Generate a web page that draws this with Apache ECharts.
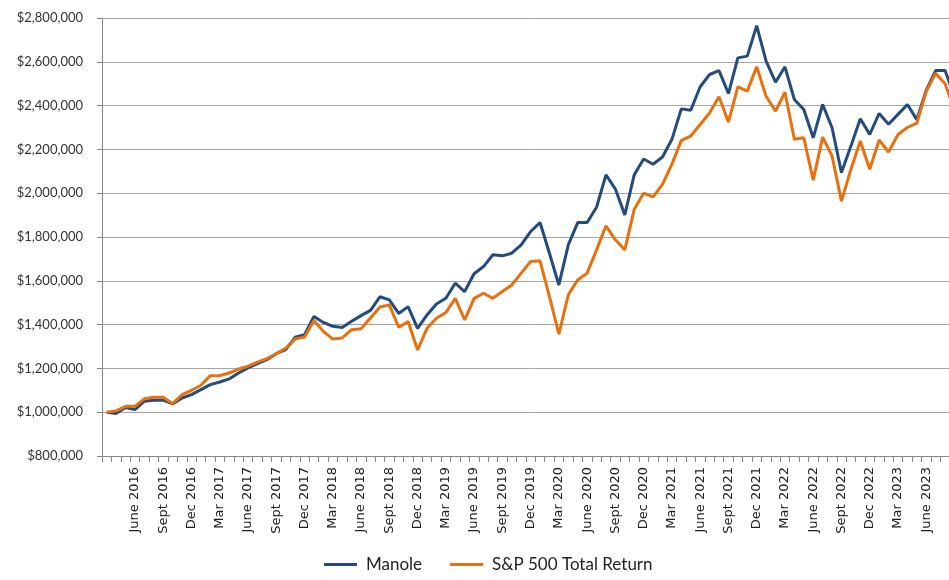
<!DOCTYPE html>
<html>
<head>
<meta charset="utf-8">
<script src="https://cdn.jsdelivr.net/npm/echarts@6/dist/echarts.min.js"></script>
<style>
html,body{margin:0;padding:0;background:#fff;overflow:hidden;}
#c{width:961px;height:580px;}
</style>
</head>
<body>
<div id="c"></div>
<script>
// Month labels (Mar 2016 .. Sept 2023)
const monthNames = ['Jan','Feb','Mar','Apr','May','June','July','Aug','Sept','Oct','Nov','Dec'];
const startYear = 2016, startMonth = 2, monthCount = 91;
const categories = [];
for (let i = 0; i < monthCount; i++) {
  const m = (startMonth + i) % 12;
  const y = startYear + Math.floor((startMonth + i) / 12);
  categories.push(monthNames[m] + ' ' + y);
}

const manole = [
  1000000, 994000, 1021000, 1012000, 1050000, 1055000, 1055000, 1038000, 1065000, 1080000,
  1103000, 1126000, 1138000, 1152000, 1179000, 1202000, 1222000, 1240000, 1267000, 1286000,
  1342000, 1354000, 1437000, 1410000, 1392000, 1387000, 1415000, 1441000, 1465000, 1527000,
  1513000, 1451000, 1482000, 1383000, 1444000, 1494000, 1520000, 1589000, 1551000, 1632000,
  1665000, 1719000, 1714000, 1726000, 1764000, 1825000, 1866000, 1726000, 1581000, 1764000,
  1866000, 1866000, 1936000, 2084000, 2019000, 1901000, 2084000, 2156000, 2132000, 2165000,
  2246000, 2385000, 2379000, 2486000, 2542000, 2560000, 2455000, 2618000, 2626000, 2765000,
  2603000, 2507000, 2577000, 2428000, 2382000, 2253000, 2405000, 2299000, 2094000, 2215000,
  2340000, 2268000, 2364000, 2315000, 2360000, 2405000, 2336000, 2470000, 2560000, 2560000,
  2440000
];

const sp500 = [
  1000000, 1006000, 1027000, 1027000, 1061000, 1068000, 1068000, 1039000, 1080000, 1100000,
  1123000, 1167000, 1167000, 1179000, 1197000, 1210000, 1229000, 1245000, 1267000, 1292000,
  1334000, 1343000, 1419000, 1369000, 1334000, 1339000, 1377000, 1381000, 1430000, 1480000,
  1490000, 1388000, 1414000, 1284000, 1383000, 1429000, 1455000, 1520000, 1421000, 1520000,
  1543000, 1520000, 1551000, 1581000, 1635000, 1688000, 1691000, 1528000, 1356000, 1536000,
  1604000, 1635000, 1741000, 1851000, 1787000, 1741000, 1927000, 2000000, 1983000, 2040000,
  2133000, 2241000, 2261000, 2314000, 2367000, 2440000, 2325000, 2486000, 2466000, 2577000,
  2443000, 2375000, 2461000, 2246000, 2253000, 2060000, 2256000, 2170000, 1964000, 2109000,
  2238000, 2109000, 2243000, 2188000, 2268000, 2300000, 2320000, 2465000, 2548000, 2500000,
  2380000
];

const seriesNames = ['Manole', 'S&P 500 Total Return'];
const yMin = 800000, yMax = 2800000, yStep = 200000;

const chart = echarts.init(document.getElementById('c'), null, {renderer: 'canvas'});
chart.setOption({
  animation: false,
  backgroundColor: '#ffffff',
  grid: {left: 102, top: 18, bottom: 124, right: 0, containLabel: false},
  legend: {
    data: seriesNames,
    bottom: 2,
    left: 319,
    icon: 'rect',
    itemWidth: 33,
    itemHeight: 3,
    itemGap: 28,
    textStyle: {fontFamily: 'Lato', fontSize: 17, color: '#222', padding: [0, 0, 0, 4]}
  },
  xAxis: {
    type: 'category',
    data: categories,
    boundaryGap: true,
    axisLine: {lineStyle: {color: '#868686', width: 1}},
    axisTick: {show: true, interval: 0, length: 6, lineStyle: {color: '#868686'}},
    axisLabel: {
      rotate: 90,
      margin: 11,
      interval: function (idx) { return idx > 0 && idx % 3 === 0; },
      fontFamily: 'DejaVu Sans',
      fontSize: 13,
      color: '#222'
    },
    splitLine: {show: false}
  },
  yAxis: {
    type: 'value',
    min: yMin,
    max: yMax,
    interval: yStep,
    axisLine: {show: true, lineStyle: {color: '#868686', width: 1}},
    axisTick: {show: true, length: 5, lineStyle: {color: '#868686'}},
    axisLabel: {
      margin: 19,
      fontFamily: 'Lato',
      fontSize: 13,
      color: '#333',
      formatter: function (v) { return '$' + v.toLocaleString('en-US'); }
    },
    splitLine: {show: true, lineStyle: {color: '#A6A6A6', width: 1}}
  },
  series: [
    {
      name: seriesNames[0],
      type: 'line',
      data: manole,
      symbol: 'none',
      lineStyle: {color: '#244B7E', width: 3},
      itemStyle: {color: '#244B7E'}
    },
    {
      name: seriesNames[1],
      type: 'line',
      data: sp500,
      symbol: 'none',
      lineStyle: {color: '#E8700F', width: 3},
      itemStyle: {color: '#E8700F'}
    }
  ]
});
</script>
</body>
</html>
